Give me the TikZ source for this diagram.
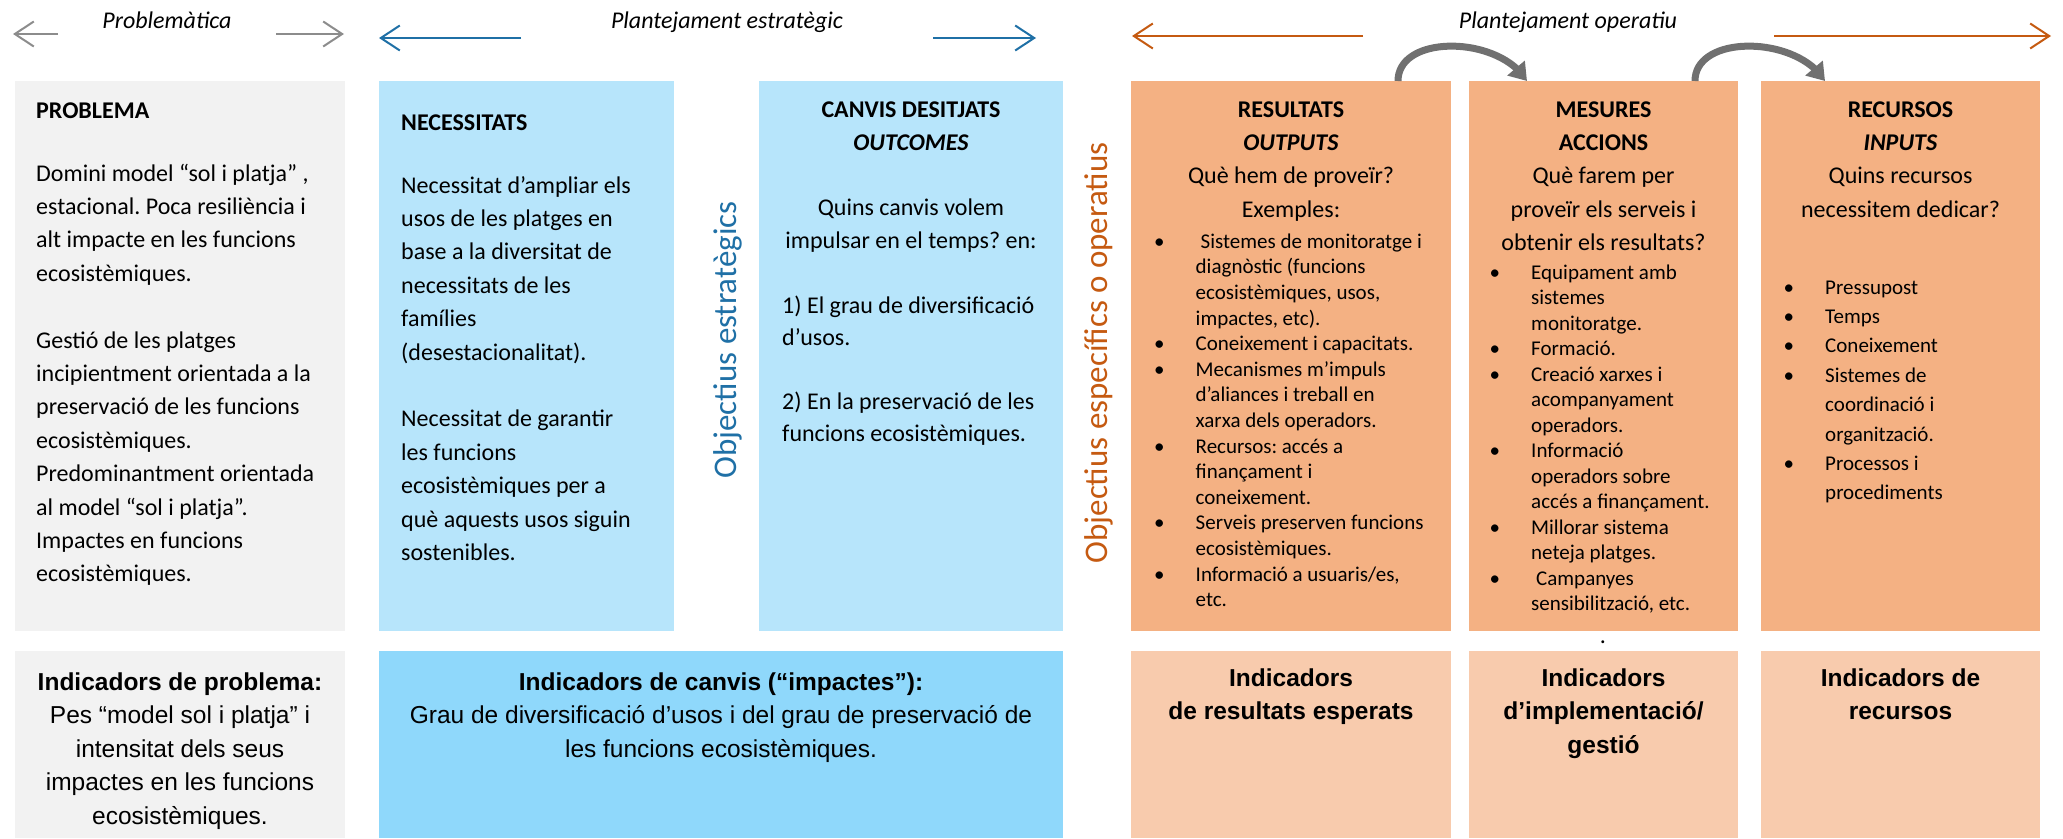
\documentclass[tikz,border=0pt]{standalone}
\usepackage{fontspec}
\setmainfont{Carlito}
\newfontfamily\arialfont{Liberation Sans}
\usepackage{tikz}
\usetikzlibrary{math}
\usetikzlibrary{arrows.meta}
\usetikzlibrary{bending}
\usetikzlibrary{positioning}
\definecolor{cgrey}{RGB}{242,242,242}
\definecolor{cblue}{RGB}{183,229,251}
\definecolor{cbluedark}{RGB}{143,216,251}
\definecolor{corange}{RGB}{244,177,131}
\definecolor{corangelight}{RGB}{248,203,173}
\definecolor{cbluetext}{RGB}{31,112,166}
\definecolor{corangetext}{RGB}{197,90,17}
\definecolor{cgreyline}{RGB}{140,140,140}
\definecolor{ccurve}{RGB}{112,112,112}
\newcommand\bodyfont{\fontsize{24}{33.4}\selectfont}
\newcommand\listfont{\fontsize{21}{25.6}\selectfont}
\newcommand\indfont{\arialfont\fontsize{24.5}{33.5}\selectfont}
\newcommand\sidefont{\fontsize{33}{40}\selectfont}
\newcommand\bul{\makebox[41.5pt][l]{\textbullet}}
\newcommand\bulnext{\hspace*{41.5pt}}
\frenchspacing

\begin{document}
\begin{tikzpicture}[x=1pt, y=-1pt,
  panelbox/.style={anchor=north west, inner sep=0pt, outer sep=0pt},
  titletext/.style={inner sep=0pt, align=center, font=\bodyfont},
  bodytext/.style={anchor=north west, inner sep=0pt, align=left, font=\bodyfont},
  listtext/.style={anchor=north west, inner sep=0pt, align=left, font=\listfont},
  indtext/.style={inner sep=0pt, align=center, font=\indfont},
  toplabel/.style={anchor=base, inner sep=0pt, font=\bodyfont\itshape},
  sidelabel/.style={rotate=90, inner sep=0pt, font=\sidefont},
  toparrow/.style={line width=2pt, -{Straight Barb[length=19pt,width=25pt]}},
  curvearrow/.style={ccurve, line width=7pt, -{Triangle[length=17pt,width=22pt]}}]
  \tikzmath{
    \rowtop = 81;
    \rowmid = 631;
    \indtop = 651;
    \indbot = 838;
    %
    \toph = \rowmid - \rowtop;
    \indh = \indbot - \indtop;
  }
  \useasboundingbox (0,0) rectangle (2063,838);

  % top row boxes
  \node [panelbox, fill=cgrey, minimum width=330pt, minimum height=\toph pt] (prob) at (15,\rowtop) {};
  \node [panelbox, fill=cblue, minimum width=295pt, minimum height=\toph pt] (need) at (379,\rowtop) {};
  \node [panelbox, fill=cblue, minimum width=304pt, minimum height=\toph pt] (canv) at (759,\rowtop) {};
  \node [panelbox, fill=corange, minimum width=320pt, minimum height=\toph pt] (res) at (1131,\rowtop) {};
  \node [panelbox, fill=corange, minimum width=269pt, minimum height=\toph pt] (mes) at (1469,\rowtop) {};
  \node [panelbox, fill=corange, minimum width=279pt, minimum height=\toph pt] (rec) at (1761,\rowtop) {};

  % indicator boxes
  \node [panelbox, fill=cgrey, minimum width=330pt, minimum height=\indh pt] (probind) at (15,\indtop) {};
  \node [panelbox, fill=cbluedark, minimum width=684pt, minimum height=\indh pt] (canvind) at (379,\indtop) {};
  \node [panelbox, fill=corangelight, minimum width=320pt, minimum height=\indh pt] (resind) at (1131,\indtop) {};
  \node [panelbox, fill=corangelight, minimum width=269pt, minimum height=\indh pt] (mesind) at (1469,\indtop) {};
  \node [panelbox, fill=corangelight, minimum width=279pt, minimum height=\indh pt] (recind) at (1761,\indtop) {};

  % top labels and arrows
  \node [toplabel] (lblprob) at (167,28) {Problemàtica};
  \node [toplabel] (lblstrat) at (727,28) {Plantejament estratègic};
  \node [toplabel] (lbloper) at (1568,28) {Plantejament operatiu};
  \coordinate (probL) at (58,34);
  \coordinate (probL0) at (13,34);
  \coordinate (probR) at (276,34);
  \coordinate (probR0) at (344,34);
  \coordinate (stratL) at (521,38);
  \coordinate (stratL0) at (379,38);
  \coordinate (stratR) at (933,38);
  \coordinate (stratR0) at (1036,38);
  \coordinate (operL) at (1363,36);
  \coordinate (operL0) at (1132,36);
  \coordinate (operR) at (1774,36);
  \coordinate (operR0) at (2051,36);
  \draw [toparrow, cgreyline] (probL) -- (probL0);
  \draw [toparrow, cgreyline] (probR) -- (probR0);
  \draw [toparrow, cbluetext] (stratL) -- (stratL0);
  \draw [toparrow, cbluetext] (stratR) -- (stratR0);
  \draw [toparrow, corangetext] (operL) -- (operL0);
  \draw [toparrow, corangetext] (operR) -- (operR0);

  % curved arrows between operative boxes
  \draw [curvearrow] ([xshift=-53pt]res.north east) .. controls +(0,-47) and +(-28,-46) .. ([xshift=58pt]mes.north west);
  \draw [curvearrow] ([xshift=-43pt]mes.north east) .. controls +(0,-47) and +(-28,-46) .. ([xshift=64pt]rec.north west);

  % side labels
  \node [sidelabel, cbluetext] (sidestrat) at (728,340) {Objectius estratègics};
  \node [sidelabel, corangetext] (sideoper) at (1099,353) {Objectius específics o operatius};

  % problema
  \node [bodytext] (ttlprob) at (36,94.6) {\strut\textbf{PROBLEMA}};
  \node [bodytext] (txtprob) at (36,157.6) {\strut Domini model “sol i platja” ,\\
    estacional. Poca resiliència i\\
    alt impacte en les funcions\\
    ecosistèmiques.\\[33.4pt]
    Gestió de les platges\\
    incipientment orientada a la\\
    preservació de les funcions\\
    ecosistèmiques.\\
    Predominantment orientada\\
    al model “sol i platja”.\\
    Impactes en funcions\\
    ecosistèmiques.};

  % necessitats
  \node [bodytext] (ttlneed) at (401,106.6) {\strut\textbf{NECESSITATS}};
  \node [bodytext] (txtneed) at (401,169.6) {\strut Necessitat d’ampliar els\\
    usos de les platges en\\
    base a la diversitat de\\
    necessitats de les\\
    famílies\\
    (desestacionalitat).\\[33.4pt]
    Necessitat de garantir\\
    les funcions\\
    ecosistèmiques per a\\
    què aquests usos siguin\\
    sostenibles.};

  % canvis desitjats
  \node [titletext, below=12.6pt of canv.north] (ttlcanv) {\strut\textbf{CANVIS DESITJATS}\\\textbf{\textit{OUTCOMES}}};
  \node [titletext, anchor=north] (askcanv) at (911,191.6) {\strut Quins canvis volem\\impulsar en el temps? en:};
  \node [bodytext, font={\fontsize{24}{32}\selectfont}] (txtcanv) at (782,290.6) {\strut 1) El grau de diversificació\\
    d’usos.\\[32pt]
    2) En la preservació de les\\
    funcions ecosistèmiques.};

  % resultats
  \node [titletext, below=12.6pt of res.north] (ttlres) {\strut\textbf{RESULTATS}\\\textbf{\textit{OUTPUTS}}\\Què hem de proveïr?\\Exemples:};
  \node [listtext] (lstres) at (1154,230.1) {\strut\bul\hspace{5pt}Sistemes de monitoratge i\\
    \bulnext diagnòstic (funcions\\
    \bulnext ecosistèmiques, usos,\\
    \bulnext impactes, etc).\\
    \bul Coneixement i capacitats.\\
    \bul Mecanismes m’impuls\\
    \bulnext d’aliances i treball en\\
    \bulnext xarxa dels operadors.\\
    \bul Recursos: accés a\\
    \bulnext finançament i\\
    \bulnext coneixement.\\
    \bul Serveis preserven funcions\\
    \bulnext ecosistèmiques.\\
    \bul Informació a usuaris/es,\\
    \bulnext etc.};

  % mesures
  \node [titletext, below=12.6pt of mes.north] (ttlmes) {\strut\textbf{MESURES}\\\textbf{ACCIONS}\\Què farem per\\proveïr els serveis i\\obtenir els resultats?};
  \node [listtext, font={\fontsize{21}{25.5}\selectfont}] (lstmes) at (1489.5,261.1) {\strut\bul Equipament amb\\
    \bulnext sistemes\\
    \bulnext monitoratge.\\
    \bul Formació.\\
    \bul Creació xarxes i\\
    \bulnext acompanyament\\
    \bulnext operadors.\\
    \bul Informació\\
    \bulnext operadors sobre\\
    \bulnext accés a finançament.\\
    \bul Millorar sistema\\
    \bulnext neteja platges.\\
    \bul\hspace{5pt}Campanyes\\
    \bulnext sensibilització, etc.};
  \node [anchor=base, inner sep=0pt, font=\bodyfont] (dot) at (1603,643) {.};

  % recursos
  \node [titletext, below=12.6pt of rec.north] (ttlrec) {\strut\textbf{RECURSOS}\\\textbf{\textit{INPUTS}}\\Quins recursos\\necessitem dedicar?};
  \node [listtext, font={\fontsize{21}{29.4}\selectfont}] (lstrec) at (1783.5,273.4) {\strut\bul Pressupost\\
    \bul Temps\\
    \bul Coneixement\\
    \bul Sistemes de\\
    \bulnext coordinació i\\
    \bulnext organització.\\
    \bul Processos i\\
    \bulnext procediments};

  % indicators
  \node [indtext, below=15.5pt of probind.north] (txtprobind) {\strut\textbf{Indicadors de problema:}\\Pes “model sol i platja” i\\intensitat dels seus\\impactes en les funcions\\ecosistèmiques.};
  \node [indtext, below=15.5pt of canvind.north] (txtcanvind) {\strut\textbf{Indicadors de canvis (“impactes”):}\\Grau de diversificació d’usos i del grau de preservació de\\les funcions ecosistèmiques.};
  \node [indtext, below=11.5pt of resind.north] (txtresind) {\strut\textbf{Indicadors}\\\textbf{de resultats esperats}};
  \node [indtext, below=11.5pt of mesind.north] (txtmesind) {\strut\textbf{Indicadors}\\\textbf{d’implementació/}\\\textbf{gestió}};
  \node [indtext, below=11.5pt of recind.north] (txtrecind) {\strut\textbf{Indicadors de}\\\textbf{recursos}};
\end{tikzpicture}
\end{document}
